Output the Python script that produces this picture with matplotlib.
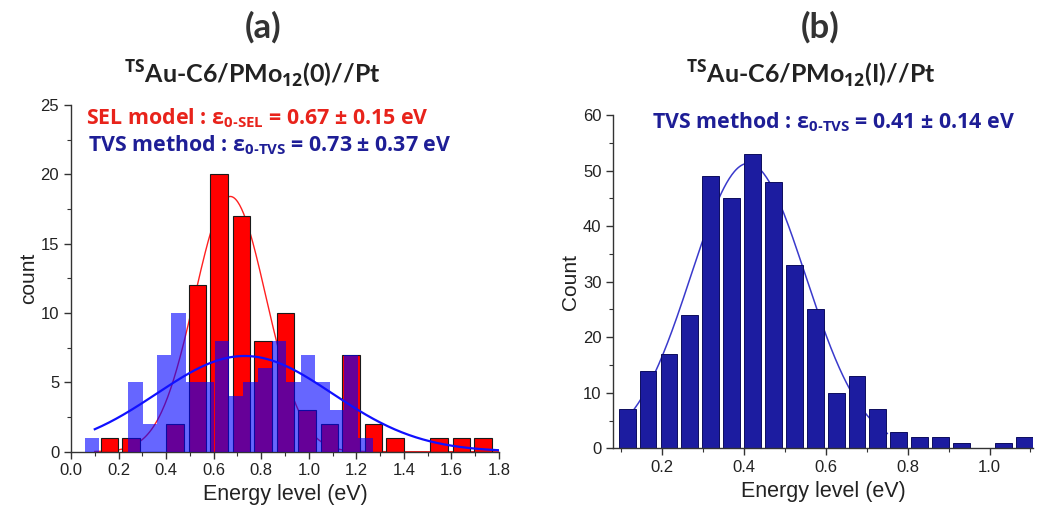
import numpy as np
import matplotlib
matplotlib.use("Agg")
import matplotlib.pyplot as plt
from matplotlib.ticker import MultipleLocator

# ---------------- data: panel (a) ----------------
sel_centers = [0.162, 0.254, 0.347, 0.439, 0.532, 0.624, 0.717, 0.809, 0.902,
               0.994, 1.087, 1.179, 1.272, 1.364, 1.457, 1.549, 1.642, 1.734]
sel_counts = [1, 1, 0, 2, 12, 20, 17, 8, 10, 3, 2, 7, 2, 1, 0, 1, 1, 1]

tvs_a_centers = [0.089, 0.150, 0.210, 0.271, 0.331, 0.392, 0.452, 0.513, 0.573, 0.634,
                 0.694, 0.755, 0.815, 0.876, 0.936, 0.997, 1.057, 1.118, 1.178, 1.239]
tvs_a_counts = [1, 0, 0, 5, 2, 7, 10, 5, 5, 8, 4, 5, 6, 8, 5, 7, 5, 3, 7, 1]

sel_mean, sel_sigma, sel_peak = 0.67, 0.15, 18.4
tvs_a_mean, tvs_a_sigma, tvs_a_peak = 0.73, 0.37, 6.9

# ---------------- data: panel (b) ----------------
tvs_b_centers = [0.114, 0.165, 0.216, 0.267, 0.318, 0.370, 0.421, 0.472, 0.523, 0.574,
                 0.625, 0.676, 0.727, 0.778, 0.829, 0.881, 0.932, 0.983, 1.034, 1.085]
tvs_b_counts = [7, 14, 17, 24, 49, 45, 53, 48, 33, 25, 10, 13, 7, 3, 2, 2, 1, 0, 1, 2]
tvs_b_mean, tvs_b_sigma, tvs_b_peak = 0.41, 0.14, 51.3

a_xticks = [0.0, 0.2, 0.4, 0.6, 0.8, 1.0, 1.2, 1.4, 1.6, 1.8]
a_yticks = [0, 5, 10, 15, 20, 25]
b_xticks = [0.2, 0.4, 0.6, 0.8, 1.0]
b_yticks = [0, 10, 20, 30, 40, 50, 60]


def gauss(x, peak, mu, sigma):
    return peak * np.exp(-(x - mu) ** 2 / (2 * sigma ** 2))


plt.rcParams['mathtext.fontset'] = 'custom'
plt.rcParams['mathtext.rm'] = 'Open Sans'
plt.rcParams['mathtext.bf'] = 'Open Sans:bold'
plt.rcParams['mathtext.it'] = 'Open Sans:italic'

TICKFONT = ['Liberation Sans', 'DejaVu Sans']
TITLEFONT = ['Lato', 'DejaVu Sans']
NOTEFONT = ['Open Sans', 'DejaVu Sans']

fig = plt.figure(figsize=(10.55, 5.27), dpi=100)
fig.patch.set_facecolor('white')

ax1 = fig.add_axes([0.0673, 0.1429, 0.4057, 0.658])
ax2 = fig.add_axes([0.5813, 0.1493, 0.3981, 0.6325])

# ---- panel (a)
xa = np.linspace(0.1, 1.8, 400)
ax1.plot(xa, gauss(xa, sel_peak, sel_mean, sel_sigma), color='#ff2020', lw=1.0, zorder=1)
ax1.bar(sel_centers, sel_counts, width=0.075, color='#ff0000', edgecolor='#1a1a1a',
        linewidth=0.8, zorder=2)
ax1.bar(tvs_a_centers, tvs_a_counts, width=0.0605, color='#0000ff', alpha=0.6,
        linewidth=0, zorder=3)
ax1.plot(xa, gauss(xa, tvs_a_peak, tvs_a_mean, tvs_a_sigma), color='#1010ff', lw=1.6, zorder=4)

ax1.set_xlim(0, 1.8)
ax1.set_ylim(0, 25)
ax1.set_xticks(a_xticks)
ax1.set_yticks(a_yticks)
ax1.xaxis.set_minor_locator(MultipleLocator(0.1))
ax1.yaxis.set_minor_locator(MultipleLocator(2.5))
ax1.set_xticklabels([f"{v:.1f}" for v in a_xticks])
ax1.set_xlabel('Energy level (eV)', fontsize=15.5, family=TICKFONT, color='#222222', labelpad=4)
ax1.set_ylabel('count', fontsize=15, family=TICKFONT, color='#222222', labelpad=2)

ax1.text(0.036, 0.963, r"SEL model : ε$_{\mathbf{0‐SEL}}$ = 0.67 ± 0.15 eV",
         transform=ax1.transAxes, color='#e8231b', fontsize=15.4, fontweight='bold',
         family=NOTEFONT, va='center', ha='left')
ax1.text(0.040, 0.883, r"TVS method : ε$_{\mathbf{0‐TVS}}$ = 0.73 ± 0.37 eV",
         transform=ax1.transAxes, color='#1e1e96', fontsize=15.4, fontweight='bold',
         family=NOTEFONT, va='center', ha='left')

# ---- panel (b)
xb = np.linspace(0.115, 0.75, 300)
ax2.plot(xb, gauss(xb, tvs_b_peak, tvs_b_mean, tvs_b_sigma), color='#3a3acc', lw=1.1, zorder=1)
ax2.bar(tvs_b_centers, tvs_b_counts, width=0.041, color='#1c1ca0', edgecolor='#0c0c5e',
        linewidth=0.7, zorder=2)

ax2.set_xlim(0.08, 1.107)
ax2.set_ylim(0, 60)
ax2.set_xticks(b_xticks)
ax2.set_yticks(b_yticks)
ax2.xaxis.set_minor_locator(MultipleLocator(0.1))
ax2.yaxis.set_minor_locator(MultipleLocator(5))
ax2.set_xticklabels([f"{v:.1f}" for v in b_xticks])
ax2.set_xlabel('Energy level (eV)', fontsize=15.5, family=TICKFONT, color='#222222', labelpad=4)
ax2.set_ylabel('Count', fontsize=15, family=TICKFONT, color='#222222', labelpad=2)

ax2.text(0.092, 0.978, r"TVS method : ε$_{\mathbf{0‐TVS}}$ = 0.41 ± 0.14 eV",
         transform=ax2.transAxes, color='#1e1e96', fontsize=15.4, fontweight='bold',
         family=NOTEFONT, va='center', ha='left')

for ax in (ax1, ax2):
    for s in ('top', 'right'):
        ax.spines[s].set_visible(False)
    for s in ('left', 'bottom'):
        ax.spines[s].set_color('#333333')
        ax.spines[s].set_linewidth(1.0)
    ax.tick_params(which='major', direction='out', length=5, width=1.0, color='#333333',
                   labelsize=12, labelcolor='#222222')
    ax.tick_params(which='minor', direction='out', length=3, width=0.8, color='#333333')
    for lab in ax.get_xticklabels() + ax.get_yticklabels():
        lab.set_family(TICKFONT)

# ---- titles
fig.text(263 / 1055, 1 - 27 / 527, '(a)', fontsize=25, family=TITLEFONT,
         color='#333333', ha='center', va='center', fontweight='bold')
fig.text(252 / 1055, 1 - 74 / 527, r"$^{\mathbf{TS}}$Au-C6/PMo$_{\mathbf{12}}$(0)//Pt",
         fontsize=18, family=TITLEFONT, color='#222222', ha='center', va='center',
         fontweight='bold')
fig.text(820 / 1055, 1 - 27 / 527, '(b)', fontsize=25, family=TITLEFONT,
         color='#333333', ha='center', va='center', fontweight='bold')
fig.text(811 / 1055, 1 - 74 / 527, r"$^{\mathbf{TS}}$Au-C6/PMo$_{\mathbf{12}}$(I)//Pt",
         fontsize=18, family=TITLEFONT, color='#222222', ha='center', va='center',
         fontweight='bold')

fig.savefig('out.png', dpi=100, facecolor='white')
